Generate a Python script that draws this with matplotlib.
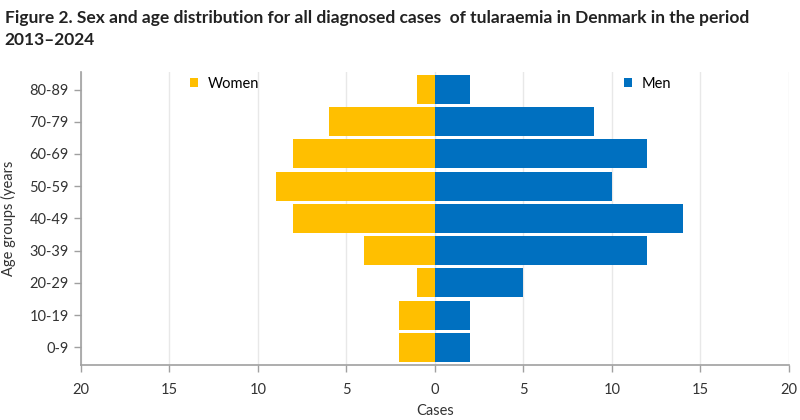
import matplotlib
matplotlib.use("Agg")
import matplotlib.pyplot as plt
import numpy as np

# 数据
age_groups = ["0-9", "10-19", "20-29", "30-39", "40-49", "50-59", "60-69", "70-79", "80-89"]
women = [2, 2, 1, 4, 8, 9, 8, 6, 1]
men = [2, 2, 5, 12, 14, 10, 12, 9, 2]
xticks = [-20, -15, -10, -5, 0, 5, 10, 15, 20]

women_color = "#FFBF00"
men_color = "#0070C0"
axis_color = "#A0A0A0"

plt.rcParams['font.family'] = ['Lato', 'DejaVu Sans']

fig = plt.figure(figsize=(8, 4.2), dpi=100)
ax = fig.add_axes([0.101, 0.131, 0.885, 0.698])

y = np.arange(len(age_groups))
ax.barh(y, [-w for w in women], height=0.9, color=women_color, label="Women", zorder=3)
ax.barh(y, men, height=0.9, color=men_color, label="Men", zorder=3)

ax.set_xlim(-20, 20)
ax.set_ylim(-0.55, 8.55)
ax.set_xticks(xticks)
ax.set_xticklabels([str(abs(t)) for t in xticks], fontsize=10.5, color="#333333")
ax.set_yticks(y)
ax.set_yticklabels(age_groups, fontsize=10.5, color="#333333")
ax.tick_params(axis="both", colors=axis_color, labelcolor="#333333", length=5, width=1)
ax.tick_params(axis="x", pad=8)

ax.grid(axis="x", color="#E8E8E8", linewidth=1, zorder=0)
for s in ["top", "right"]:
    ax.spines[s].set_visible(False)
for s in ["left", "bottom"]:
    ax.spines[s].set_color(axis_color)
    ax.spines[s].set_linewidth(1.2)

ax.set_xlabel("Cases", fontsize=10.5, color="#333333", labelpad=5)
ax.set_ylabel("Age groups (years", fontsize=10.5, color="#333333", labelpad=10)

# 图例(分开放)
h_w, l_w = [ax.patches[0]], ["Women"]
h_m, l_m = [ax.patches[len(age_groups)]], ["Men"]
leg1 = ax.legend(h_w, l_w, loc="center left", bbox_to_anchor=(0.135, 0.96), frameon=False,
                 handlelength=0.55, handleheight=0.55, handletextpad=0.7, fontsize=10.5)
ax.add_artist(leg1)
ax.legend(h_m, l_m, loc="center left", bbox_to_anchor=(0.748, 0.96), frameon=False,
          handlelength=0.55, handleheight=0.55, handletextpad=0.7, fontsize=10.5)

fig.text(0.006, 0.975, "Figure 2. Sex and age distribution for all diagnosed cases  of tularaemia in Denmark in the period\n2013\u20132024",
         fontsize=12.5, fontweight="bold", color="#222222", va="top", ha="left", linespacing=1.4)

fig.savefig("out.png", dpi=100)
